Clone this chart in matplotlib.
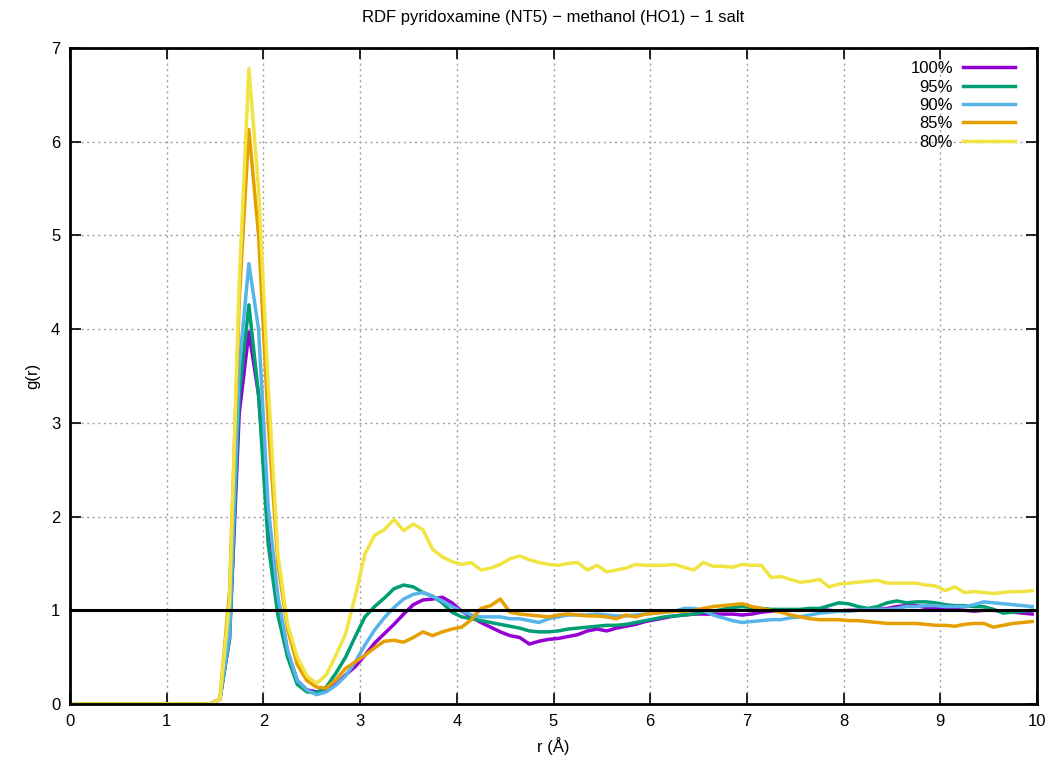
import numpy as np
import matplotlib
import matplotlib.pyplot as plt

matplotlib.use('Agg')

plt.rcParams['font.family'] = ['Liberation Sans', 'DejaVu Sans']

# bin centres of the RDF histogram (0.1 A bins)
r = np.round(np.arange(0.05, 10.0, 0.1), 2)

# g(r) curves for the five methanol fractions
g100 = [0, 0, 0, 0, 0, 0, 0, 0, 0, 0, 0, 0, 0, 0, 0,
        0.05, 0.7, 3.1, 3.97, 3.3, 2.0, 1.1, 0.55, 0.25, 0.15,
        0.13, 0.15, 0.21, 0.31, 0.40, 0.52, 0.65, 0.75, 0.85, 0.96,
        1.06, 1.11, 1.12, 1.14, 1.08, 0.99, 0.93, 0.87, 0.82, 0.77,
        0.73, 0.71, 0.64, 0.67, 0.69, 0.70, 0.72, 0.74, 0.78, 0.80,
        0.78, 0.81, 0.83, 0.85, 0.88, 0.90, 0.92, 0.94, 0.95, 0.96,
        0.96, 0.96, 0.96, 0.96, 0.95, 0.96, 0.98, 0.99, 1.00, 1.00,
        1.00, 1.01, 1.01, 1.00, 0.99, 1.00, 1.00, 1.01, 1.01, 1.02,
        1.04, 1.05, 1.05, 1.03, 1.02, 1.01, 1.01, 1.00, 0.99, 1.00,
        1.00, 0.99, 0.98, 0.97, 0.96]
g95 = [0, 0, 0, 0, 0, 0, 0, 0, 0, 0, 0, 0, 0, 0, 0,
       0.05, 0.7, 3.3, 4.26, 3.3, 1.7, 0.95, 0.5, 0.21, 0.13,
       0.12, 0.18, 0.33, 0.50, 0.72, 0.93, 1.04, 1.13, 1.23, 1.27,
       1.25, 1.19, 1.15, 1.08, 0.98, 0.93, 0.91, 0.89, 0.87, 0.85,
       0.83, 0.81, 0.78, 0.77, 0.77, 0.78, 0.80, 0.81, 0.82, 0.83,
       0.84, 0.84, 0.85, 0.87, 0.89, 0.91, 0.93, 0.94, 0.95, 0.96,
       0.98, 0.99, 1.01, 1.03, 1.04, 1.03, 1.02, 1.01, 1.01, 1.01,
       1.01, 1.02, 1.02, 1.05, 1.08, 1.07, 1.04, 1.02, 1.04, 1.08,
       1.10, 1.08, 1.09, 1.09, 1.08, 1.06, 1.05, 1.05, 1.04, 1.04,
       1.01, 0.97, 0.98, 0.99, 1.00]
g90 = [0, 0, 0, 0, 0, 0, 0, 0, 0, 0, 0, 0, 0, 0, 0,
       0.05, 0.75, 3.6, 4.7, 4.0, 2.1, 1.15, 0.58, 0.25, 0.15,
       0.10, 0.13, 0.20, 0.30, 0.45, 0.63, 0.79, 0.92, 1.03, 1.12,
       1.17, 1.19, 1.15, 1.10, 1.04, 0.99, 0.95, 0.93, 0.93, 0.93,
       0.91, 0.91, 0.89, 0.87, 0.91, 0.93, 0.95, 0.95, 0.95, 0.96,
       0.95, 0.94, 0.94, 0.95, 0.96, 0.97, 0.98, 0.99, 1.02, 1.02,
       1.00, 0.95, 0.92, 0.89, 0.87, 0.88, 0.89, 0.90, 0.90, 0.92,
       0.93, 0.95, 0.97, 0.98, 0.99, 0.99, 1.00, 1.01, 1.01, 1.01,
       1.02, 1.04, 1.04, 1.05, 1.05, 1.04, 1.04, 1.04, 1.06, 1.09,
       1.08, 1.07, 1.06, 1.05, 1.04]
g85 = [0, 0, 0, 0, 0, 0, 0, 0, 0, 0, 0, 0, 0, 0, 0,
       0.05, 1.2, 4.3, 6.13, 5.0, 3.0, 1.5, 0.8, 0.42, 0.25,
       0.18, 0.17, 0.26, 0.38, 0.45, 0.52, 0.60, 0.67, 0.68, 0.66,
       0.71, 0.77, 0.73, 0.77, 0.80, 0.82, 0.90, 1.02, 1.05, 1.12,
       0.98, 0.96, 0.95, 0.94, 0.93, 0.95, 0.96, 0.95, 0.94, 0.94,
       0.93, 0.91, 0.95, 0.93, 0.96, 0.97, 0.98, 0.99, 0.99, 1.00,
       1.02, 1.04, 1.05, 1.06, 1.07, 1.04, 1.02, 1.00, 0.98, 0.95,
       0.93, 0.91, 0.90, 0.90, 0.90, 0.89, 0.89, 0.88, 0.87, 0.86,
       0.86, 0.86, 0.86, 0.85, 0.84, 0.84, 0.83, 0.85, 0.86, 0.86,
       0.82, 0.84, 0.86, 0.87, 0.88]
g80 = [0, 0, 0, 0, 0, 0, 0, 0, 0, 0, 0, 0, 0, 0, 0,
       0.05, 1.1, 4.5, 6.78, 5.5, 3.4, 1.6, 0.85, 0.5, 0.30,
       0.22, 0.31, 0.52, 0.75, 1.15, 1.60, 1.80, 1.86, 1.97, 1.85,
       1.92, 1.86, 1.65, 1.57, 1.52, 1.49, 1.51, 1.43, 1.45, 1.49,
       1.55, 1.58, 1.54, 1.51, 1.49, 1.48, 1.50, 1.51, 1.43, 1.48,
       1.41, 1.43, 1.45, 1.49, 1.48, 1.48, 1.48, 1.49, 1.46, 1.43,
       1.51, 1.47, 1.47, 1.46, 1.49, 1.48, 1.48, 1.35, 1.36, 1.33,
       1.30, 1.31, 1.33, 1.25, 1.28, 1.29, 1.30, 1.31, 1.32, 1.29,
       1.29, 1.29, 1.29, 1.27, 1.26, 1.21, 1.25, 1.19, 1.20, 1.19,
       1.18, 1.19, 1.20, 1.20, 1.21]

labels = ['100%', '95%', '90%', '85%', '80%']
colors = ['#9400d3', '#009e73', '#56b4e9', '#e69f00', '#f0e442']

fig = plt.figure(figsize=(10.54, 7.63), dpi=100)
ax = fig.add_axes([0.0664, 0.0773, 0.9175, 0.8597])

for g, lab, c in zip([g100, g95, g90, g85, g80], labels, colors):
    ax.plot(r, g, color=c, lw=2.5, label=lab)

ax.axhline(1.0, color='black', lw=2.2, zorder=5)

ax.set_xlim(0, 10)
ax.set_ylim(0, 7)
ax.set_xticks(range(0, 11))
ax.set_yticks(range(0, 8))
ax.grid(True, color='#a0a0a0', linestyle=(0, (1.5, 2.5)), lw=1)
ax.tick_params(direction='in', length=8, width=1.2, top=True, right=True,
               labelsize=12, pad=7)
for s in ax.spines.values():
    s.set_linewidth(2)

ax.set_xlabel('r (Å)', fontsize=12, labelpad=6)
ax.set_ylabel('g(r)', fontsize=12, labelpad=8)
ax.set_title('RDF pyridoxamine (NT5) \u2212 methanol (HO1) \u2212 1 salt', fontsize=12, pad=19)

ax.legend(loc='upper right', bbox_to_anchor=(0.977, 0.98), frameon=False,
          markerfirst=False, fontsize=12, handlelength=3.1, handletextpad=0.6,
          labelspacing=0.2, borderaxespad=0, borderpad=0)

plt.savefig('out.png', dpi=100)
